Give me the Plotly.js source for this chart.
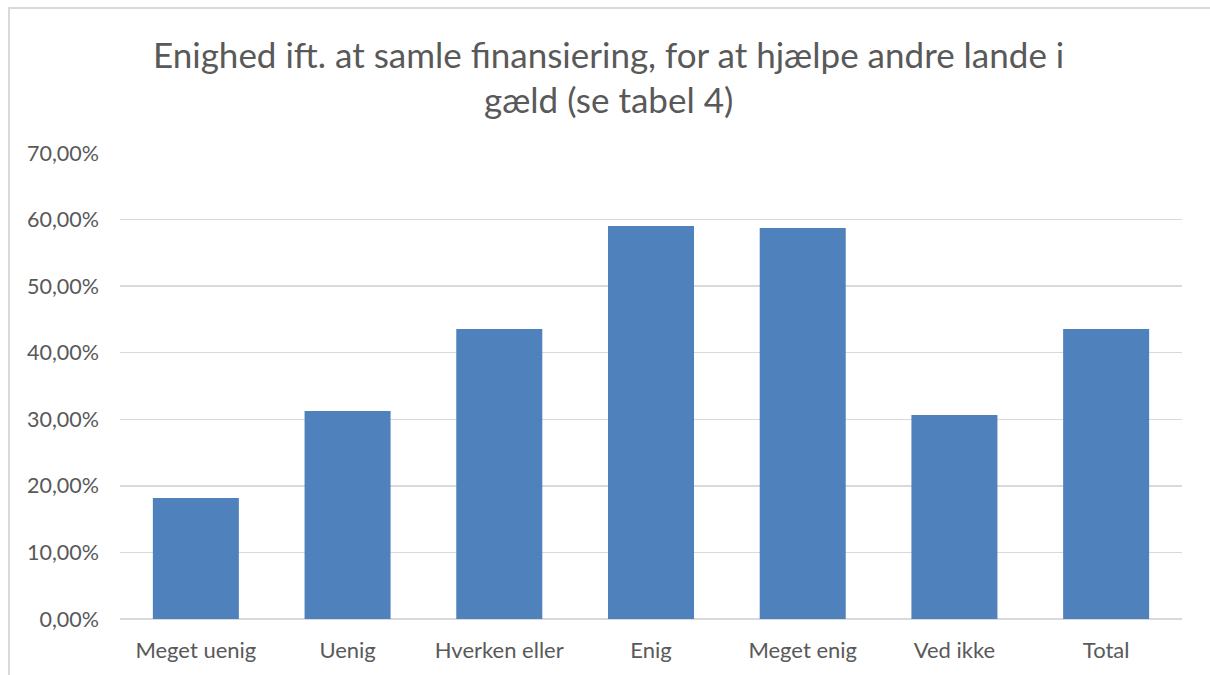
<!DOCTYPE html>
<html>
<head>
<meta charset="utf-8">
<script src="https://cdn.plot.ly/plotly-3.0.1.min.js"></script>
<style>
html,body{margin:0;padding:0;background:#fff;}
#wrap{position:relative;width:1210px;height:675px;overflow:hidden;}
#chart{width:1210px;height:675px;}
#frame{position:absolute;left:8px;top:7px;width:1300px;height:800px;border:2px solid #d9d9d9;pointer-events:none;box-sizing:border-box;}
</style>
</head>
<body>
<div id="wrap">
<div id="chart"></div>
<div id="frame"></div>
</div>
<script>
const categories = ["Meget uenig", "Uenig", "Hverken eller", "Enig", "Meget enig", "Ved ikke", "Total"];
const values = [0.1818, 0.3125, 0.4356, 0.5903, 0.5873, 0.3064, 0.4356];
const yTicks = [0, 0.1, 0.2, 0.3, 0.4, 0.5, 0.6, 0.7];

const FONT = "Lato, 'Open Sans', sans-serif";

Plotly.newPlot('chart', [{
  type: 'bar',
  x: categories,
  y: values,
  marker: {color: '#4f81bd'},
  hoverinfo: 'none'
}], {
  width: 1210,
  height: 675,
  separators: ',.',
  paper_bgcolor: '#ffffff',
  plot_bgcolor: '#ffffff',
  margin: {l: 120, r: 28, t: 153, b: 56, pad: 0},
  bargap: 0.433,
  showlegend: false,
  title: {
    text: 'Enighed ift. at samle finansiering, for at hjælpe andre lande i<br>gæld (se tabel 4)',
    font: {family: FONT, size: 35, color: '#595959'},
    x: 0.503,
    xref: 'container',
    xanchor: 'center',
    y: 0.9,
    yref: 'container',
    yanchor: 'top'
  },
  xaxis: {
    type: 'category',
    showgrid: false,
    showline: false,
    zeroline: false,
    ticks: '',
    tickfont: {family: FONT, size: 22, color: '#595959'},
    ticklabelstandoff: 16
  },
  yaxis: {
    range: [0, 0.7],
    tickvals: yTicks,
    tickformat: '.2%',
    showgrid: true,
    gridcolor: '#d9d9d9',
    gridwidth: 1.5,
    zeroline: true,
    zerolinecolor: '#d9d9d9',
    zerolinewidth: 1.5,
    showline: false,
    ticks: '',
    tickfont: {family: FONT, size: 21.5, color: '#595959'},
    ticklabelstandoff: 20
  }
}, {displayModeBar: false, staticPlot: true});
</script>
</body>
</html>
